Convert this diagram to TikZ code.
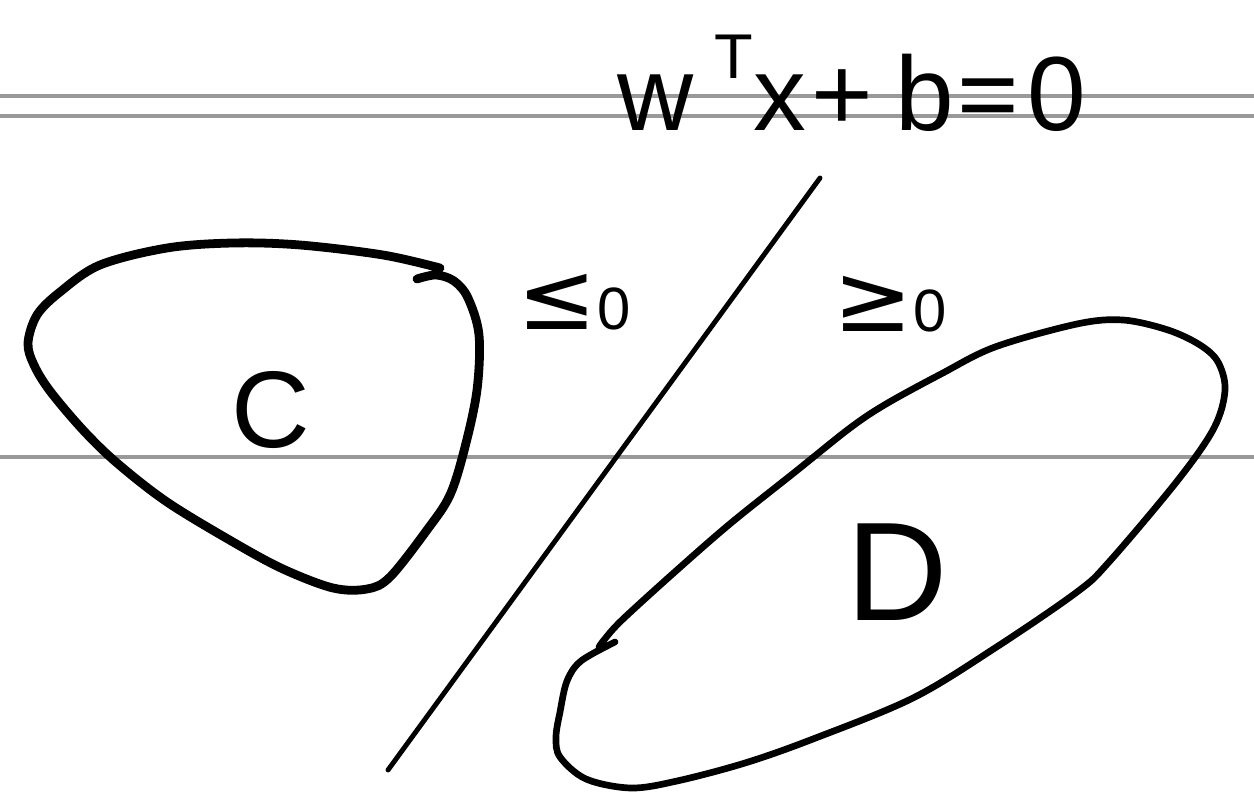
\documentclass[tikz,border=0pt]{standalone}
\usepackage{fontspec}
\setmainfont{Liberation Sans}
\newfontfamily\dv{DejaVu Sans}
\definecolor{ruler}{RGB}{153,153,153}
\begin{document}
\begin{tikzpicture}[x=0.02cm,y=-0.02cm,
  ruleline/.style={draw=ruler,line width=2.8pt},
  blobC/.style={draw=black,line width=5pt,line cap=round,line join=round},
  blobD/.style={draw=black,line width=3.8pt,line cap=round,line join=round},
  sep/.style={draw=black,line width=2.8pt,line cap=round},
  hand/.style={inner sep=0pt,text=black}]
\useasboundingbox (0,0) rectangle (1254,793);
\fill[white] (0,0) rectangle (1254,793);
% ruled lines
\draw[ruleline] (0,96) -- (1254,96);
\draw[ruleline] (0,116) -- (1254,116);
\draw[ruleline] (0,457) -- (1254,457);
% separating line
\coordinate (top) at (820,178);
\coordinate (bot) at (388,770);
\draw[sep] (top) -- (bot);
% blob C
\draw[blobC] plot[smooth,tension=0.55] coordinates {
 (440,268) (383,255) (300,245) (233,243) (167,248) (100,265) (60,292) (37,315)
 (28,343) (34,365) (50,391) (83,430) (117,463) (167,502) (233,542) (283,569)
 (333,588) (367,589) (390,577) (427,530) (450,495) (465,447) (477,390) (479,335)
 (468,298) (454,281) (436,275) (417,279)};
% blob D
\draw[blobD] plot[smooth,tension=0.55] coordinates {
 (599,647) (604,640) (622,620) (677,570) (731,523) (795,472) (850,428) (886,404)
 (941,374) (995,347) (1077,324) (1123,320) (1168,330) (1200,345) (1218,362)
 (1225,390) (1214,428) (1178,480) (1109,562) (1077,592) (995,648) (913,698)
 (813,739) (745,763) (677,781) (631,788) (586,779) (560,757) (556,737) (560,712)
 (567,681) (581,661) (615,642)};
% labels
\node[hand,font=\fontsize{60}{60}\selectfont,anchor=base west] (eq) at (617,131)
  {w\hspace{0.42cm}\raisebox{30pt}{\fontsize{36}{36}\selectfont T}x\hspace{0.12cm}+\hspace{0.44cm}b\hspace{0.08cm}=\hspace{0.16cm}0};
\node[hand,anchor=center] (le) at (574,302)
  {{\dv\fontsize{54}{54}\selectfont ≤}{\fontsize{34}{34}\selectfont 0}};
\node[hand,anchor=center] (ge) at (890,304)
  {{\dv\fontsize{54}{54}\selectfont ≥}{\fontsize{34}{34}\selectfont 0}};
\node[hand,font=\fontsize{62}{62}\selectfont] (C) at (271,410) {C};
\node[hand,font=\fontsize{80}{80}\selectfont] (D) at (897,572) {D};
\end{tikzpicture}
\end{document}
